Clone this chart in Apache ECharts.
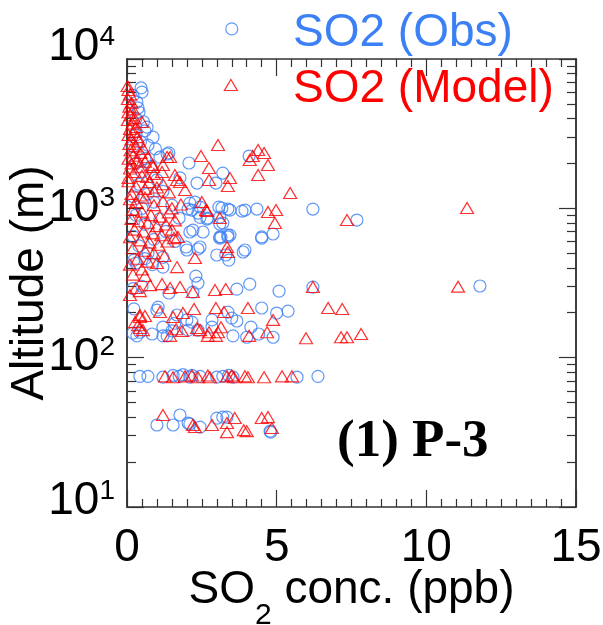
<!DOCTYPE html>
<html>
<head>
<meta charset="utf-8">
<script src="https://cdn.jsdelivr.net/npm/echarts@6.0.0/dist/echarts.min.js"></script>
<style>
html,body{margin:0;padding:0;background:#fff;}
#chart{width:603px;height:625px;}
</style>
</head>
<body>
<div id="chart"></div>
<script>
// ---- data: [SO2 concentration (ppb), altitude (m)] ----
const obsValues = [
  [0.47,6400],[0.5,6000],[0.33,5150],[0.37,4700],[0.2,5700],[0.4,4400],[0.3,4000],[0.55,3800],
  [0.67,3500],[0.87,3000],[0.6,3300],[0.3,3100],[0.45,2800],[0.2,2600],[0.7,2650],[0.95,2500],
  [1.4,2350],[1.1,2200],[0.6,2150],[0.3,2000],[2.07,2011],[1.77,1600],[2.34,1477],[2.97,1477],
  [3.2,1723],[4.08,2240],[0.8,1900],[0.5,1750],[1.0,1550],[0.4,1450],[1.2,1300],[0.7,1250],
  [0.2,1200],[0.9,1100],[0.5,1000],[1.5,1050],[0.3,900],[1.1,850],[0.6,780],[1.3,700],
  [0.2,650],[0.9,620],[0.4,560],[1.6,600],[0.7,500],[1.2,470],[0.3,430],[1.34,2311],[3.5,15900],
  [2.27,1102],[2.44,1020],[2.1,1085],[2.17,974],[2.44,870],[3.17,1005],[3.44,974],[3.84,959],
  [3.07,1020],[3.37,989],[2.67,848],[3.1,874],[3.1,785],[2.7,861],[2.04,989],[2.37,930],
  [1.74,861],[3.94,974],[4.34,989],[6.21,989],[7.68,835],
  [3.2,797],[3.1,643],[3.37,662],[2.1,694],[2.54,694],[2.2,715],[3.14,643],[3.44,662],
  [4.5,632],[4.88,673],[3.37,643],[3.1,632],[4.5,643],
  [2.0,526],[2.37,534],[3.0,487],[3.3,487],[3.88,510],[3.94,526],[1.97,551],[2.44,551],[3.4,450],
  [1.2,404],[2.3,352],[2.37,316],[1.4,271],[2.2,275],[3.67,288],[4.1,311],[5.08,279],[6.21,297],[11.79,302],
  [0.23,450],[0.2,290],[0.5,300],[0.6,460],[0.85,420],
  [1.04,218],[1.0,208],[0.23,212],[1.67,193],[3.37,202],[4.5,215],[5.0,199],[5.38,205],
  [2.0,179],[2.17,173],[2.84,179],[3.5,184],[3.67,176],[1.6,170],[1.2,160],[1.5,151],
  [0.2,146],[0.43,148],[0.84,144],[1.2,140],[1.34,140],[0.33,140],[2.04,153],[2.37,153],
  [2.84,160],[3.54,140],[4.0,137],[4.14,160],[4.4,144],[4.88,137],
  [0.43,75],[0.7,75],[1.2,74],[1.54,76],[1.74,75],[1.87,77],[2.1,74],[2.17,76],[2.44,75],
  [3.0,74],[3.2,75],[3.4,76],[3.54,74],[5.68,74],[6.38,75],
  [1.0,35.4],[1.54,35.4],[1.77,41.3],[2.04,36.5],[2.1,36],[2.44,34.3],[3.0,39.4],[3.2,40],
  [3.34,40],[4.78,32.2],[4.8,31.7]
];
const modelValues = [
  [0.02,6600],[0.05,6200],[0.1,5800],[0.03,5400],[0.15,5100],[0.08,4800],[0.2,4600],[0.05,4400],
  [0.12,4200],[0.25,4000],[0.03,3900],[0.18,3700],[0.3,3500],[0.1,3400],[0.5,3785],[0.22,3250],
  [0.05,3100],[0.35,3000],[0.15,2900],[0.4,2800],[0.08,2700],[0.28,2600],[0.55,2500],[0.12,2450],
  [0.45,2350],[0.2,2250],[0.7,2200],[0.05,2150],[0.35,2100],[0.6,2050],[0.15,2000],[0.85,1950],
  [0.4,1900],[0.1,1850],[0.67,1620],[0.25,1750],[0.9,1700],[0.5,1650],[0.05,1600],[1.2,1950],
  [1.17,1751],[0.87,1891],[1.34,2206],[1.44,2206],[1.6,1671],[1.67,1547],[1.94,1326],[1.77,1500],
  [2.47,2240],[2.74,1862],[3.44,1595],[3.37,1410],[2.74,1547],[3.04,2655],[3.47,6695],[4.38,2458],
  [4.58,2347],[4.2,2240],[4.1,2106],[4.71,1950],[4.38,1671],[5.45,1266],[4.71,944],[4.98,974],
  [4.94,797],[7.35,835],[11.36,1005],[2.5,1102],[2.64,974],[3.1,861],[2.67,959],[1.57,632],
  [1.7,643],[3.34,551],[3.37,510],[2.27,465],[1.67,404],
  [0.1,1150],[0.3,1100],[0.6,1180],[0.9,1050],[1.2,1120],[1.5,1000],[0.2,980],[0.5,950],
  [0.8,900],[1.1,880],[1.4,940],[1.8,1060],[0.15,850],[0.4,820],[0.7,800],[1.0,760],
  [1.3,780],[1.6,830],[0.25,720],[0.55,700],[0.85,680],[1.15,660],[1.5,720],[0.1,640],
  [0.45,610],[0.75,590],[1.05,570],[1.35,600],[0.2,540],[0.6,520],[0.9,500],[1.25,480],
  [0.35,460],[0.7,440],[0.1,420],[1.0,430],[0.5,390],[0.2,360],[0.3,1400],[0.6,1350],
  [0.9,1300],[1.2,1450],[0.15,1250],[0.45,1220],[0.75,1500],[1.0,1380],[1.4,1280],[0.05,1520],
  [0.6,352],[0.77,306],[1.17,311],[1.44,293],[1.77,297],[2.2,275],[2.94,284],[3.3,288],
  [0.1,263],[0.3,293],[0.43,279],
  [4.04,215],[2.24,212],[1.87,199],[2.34,158],[2.97,215],[3.24,202],[2.74,148],[3.04,148],
  [2.44,153],[1.54,187],[1.1,202],[0.43,193],[0.27,173],[0.37,165],[0.53,153],[1.84,151],
  [1.44,140],[1.64,155],[2.7,140],[2.97,140],[3.14,160],[4.08,140],[4.68,148],[4.88,179],
  [5.98,135],[7.15,137],[7.35,137],[7.82,144],[6.72,215],[7.19,212],[6.21,297],[11.06,299],
  [0.43,187],[0.6,190],[0.43,158],
  [1.27,75],[1.54,74],[1.94,75],[2.17,76],[2.37,74],[2.7,76],[2.77,74],[3.34,75],
  [3.5,76],[3.57,74],[3.94,75],[4.04,74],[4.58,74],[5.18,75],[5.51,75],
  [1.2,41.3],[2.2,35.4],[2.27,34.3],[2.84,35.4],[3.34,36.5],[3.34,31.7],[3.6,39.4],[3.9,32.7],
  [4.5,39.4],[4.71,40],[4.84,33.8],[4.0,32.2]
];
const seriesNames = ['SO2 (Obs)', 'SO2 (Model)'];
const yMajorTicks = [10, 100, 1000, 10000];
const yMinorTicks = [20,30,40,50,60,70,80,90,200,300,400,500,600,700,800,900,2000,3000,4000,5000,6000,7000,8000,9000];

const BLUE = '#3B80F5';
const RED = '#FF0000';
const AX = '#333333';
const FONT = 'Liberation Sans';

const chart = echarts.init(document.getElementById('chart'), null, {renderer: 'canvas'});

function yAxisBase(pos, ticks, len) {
  return {
    type: 'log', logBase: 10, min: 10, max: 10000, position: pos,
    axisLine: {show: true, onZero: false, lineStyle: {color: AX, width: 1.5}},
    axisTick: {show: true, inside: true, length: len, customValues: ticks, lineStyle: {color: AX, width: 1.2}},
    axisLabel: {show: false},
    splitLine: {show: false}, minorTick: {show: false}
  };
}
function xAxisBase(pos) {
  return {
    type: 'value', min: 0, max: 15, interval: 5, position: pos,
    axisLine: {show: true, onZero: false, lineStyle: {color: AX, width: 1.5}},
    axisTick: {show: true, inside: true, length: 17, lineStyle: {color: AX, width: 1.2}},
    minorTick: {show: true, splitNumber: 10, length: 8, lineStyle: {color: AX, width: 1.2}},
    axisLabel: {show: false},
    splitLine: {show: false}
  };
}

const xBottom = xAxisBase('bottom');
xBottom.axisLabel = {show: true, fontSize: 46, fontFamily: FONT, color: '#000', margin: 18};
xBottom.name = '{m|SO}{s|2}{m| conc. (ppb)}';
xBottom.nameLocation = 'middle';
xBottom.nameGap = 60;
xBottom.nameMoveOverlap = false;
xBottom.nameTextStyle = {
  fontFamily: FONT, color: '#000',
  rich: {
    m: {fontSize: 46, fontFamily: FONT, color: '#000', lineHeight: 50, verticalAlign: 'top'},
    s: {fontSize: 30, fontFamily: FONT, color: '#000', lineHeight: 30, padding: [34, 0, 0, 0], verticalAlign: 'top'}
  }
};
const xTop = xAxisBase('top');

const yLeft = yAxisBase('left', yMajorTicks, 17);
yLeft.axisLabel = {
  show: true, customValues: yMajorTicks, margin: 12,
  formatter: function (v) {
    const e = Math.round(Math.log10(v));
    const txt = '{b|10}{s|' + e + '}';
    if (e === 4) return txt + '\n{g24|}';
    if (e === 1) return txt + '\n{g12|}';
    return txt;
  },
  rich: {
    b: {fontSize: 46, fontFamily: FONT, color: '#000', lineHeight: 48},
    s: {fontSize: 28, fontFamily: FONT, color: '#000', lineHeight: 28, verticalAlign: 'top'},
    g24: {lineHeight: 24, fontSize: 1},
    g12: {lineHeight: 12, fontSize: 1}
  }
};
yLeft.name = 'Altitude (m)';
yLeft.nameLocation = 'middle';
yLeft.nameGap = 74;
yLeft.nameMoveOverlap = false;
yLeft.nameTextStyle = {fontSize: 46, fontFamily: FONT, color: '#000'};

chart.setOption({
  animation: false,
  backgroundColor: '#fff',
  grid: {left: 127, right: 27, top: 59, bottom: 118, containLabel: false, outerBoundsMode: 'none'},
  title: {
    text: '(1) P-3', left: 337, top: 416, padding: 0,
    textStyle: {fontFamily: 'Liberation Serif', fontWeight: 'bold', fontSize: 53, color: '#000'}
  },
  legend: {
    orient: 'vertical', left: 283, top: 3, icon: 'none', itemWidth: 0, itemHeight: 0,
    itemGap: 6, selectedMode: false,
    textStyle: {fontSize: 46, fontFamily: FONT, lineHeight: 50},
    data: [
      {name: seriesNames[0], textStyle: {color: BLUE}},
      {name: seriesNames[1], textStyle: {color: RED}}
    ]
  },
  xAxis: [xBottom, xTop],
  yAxis: [
    yLeft,
    yAxisBase('left', yMinorTicks, 9),
    yAxisBase('right', yMajorTicks, 17),
    yAxisBase('right', yMinorTicks, 9)
  ],
  series: [
    {
      name: seriesNames[0], type: 'scatter', xAxisIndex: 0, yAxisIndex: 0,
      symbol: 'circle', symbolSize: 12, clip: false,
      itemStyle: {color: 'rgba(0,0,0,0)', borderColor: BLUE, borderWidth: 1.2},
      data: obsValues
    },
    {
      name: seriesNames[1], type: 'scatter', xAxisIndex: 0, yAxisIndex: 0,
      symbol: 'triangle', symbolSize: [13, 11], clip: false,
      itemStyle: {color: 'rgba(0,0,0,0)', borderColor: RED, borderWidth: 1.2},
      data: modelValues
    }
  ]
});
</script>
</body>
</html>
